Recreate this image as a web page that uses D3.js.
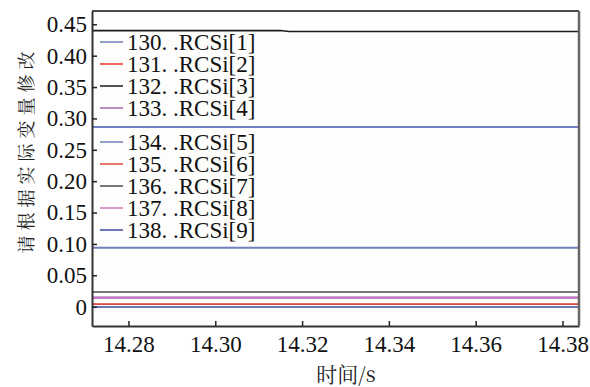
<!DOCTYPE html>
<html>
<head>
<meta charset="utf-8">
<script src="https://cdn.jsdelivr.net/npm/d3@7"></script>
<style>
  body { margin: 0; background: #fff; }
</style>
</head>
<body>
<div id="chart"></div>
<script>
// series names and colours (legend order)
const seriesNames = ["130. .RCSi[1]", "131. .RCSi[2]", "132. .RCSi[3]", "133. .RCSi[4]",
                     "134. .RCSi[5]", "135. .RCSi[6]", "136. .RCSi[7]", "137. .RCSi[8]", "138. .RCSi[9]"];
const seriesColours = ["#6f7fbb", "#e8302c", "#1a1a1a", "#a868b0",
                       "#7080bc", "#e0463c", "#4a4a4a", "#c878c0", "#3c4aa0"];
const legendGroup = [0, 0, 0, 0, 1, 1, 1, 1, 1];

// sample times and values
const times = [14.2716, 14.3150, 14.3170, 14.3838];
const seriesValues = [
  [0.2865, 0.2865, 0.2865, 0.2865],
  [0.0038, 0.0038, 0.0038, 0.0038],
  [0.4400, 0.4400, 0.4386, 0.4386],
  [0.0143, 0.0143, 0.0143, 0.0143],
  [0.0940, 0.0940, 0.0940, 0.0940],
  [0.0038, 0.0038, 0.0038, 0.0038],
  [0.0234, 0.0234, 0.0234, 0.0234],
  [0.0143, 0.0143, 0.0143, 0.0143],
  [-0.0005, -0.0005, -0.0005, -0.0005]
];

const yTicks = [0, 0.05, 0.10, 0.15, 0.20, 0.25, 0.30, 0.35, 0.40, 0.45];
const xTicks = [14.28, 14.30, 14.32, 14.34, 14.36, 14.38];
const xDomain = [14.2716, 14.3838];
const yDomain = [-0.0308, 0.4712];

const yTitle = "请根据实际变量修改";
const xTitle = "时间/s";

const serif = "'Liberation Serif', Tinos, 'Times New Roman', serif";
const cjk = "'Noto Serif CJK SC', 'Noto Sans CJK SC', serif";

const svgWidth = 590, svgHeight = 387;
const margin = {top: 11, right: 11, bottom: 61, left: 92};
const width = svgWidth - margin.left - margin.right;
const height = svgHeight - margin.top - margin.bottom;

const svg = d3.select("#chart").append("svg")
    .attr("width", svgWidth)
    .attr("height", svgHeight);

const plotArea = svg.append("g")
    .attr("transform", `translate(${margin.left},${margin.top})`);

const x = d3.scaleLinear().domain(xDomain).range([0, width]);
const y = d3.scaleLinear().domain(yDomain).range([height, 0]);

plotArea.append("rect")
    .attr("width", width).attr("height", height)
    .attr("fill", "#fdfdfb");

// series lines
const line = d3.line()
    .x((d, i) => x(times[i]))
    .y(d => y(d));

const drawOrder = [2, 0, 4, 6, 3, 7, 1, 5, 8];
plotArea.selectAll(".series")
    .data(drawOrder)
    .enter().append("path")
    .attr("class", "series")
    .attr("fill", "none")
    .attr("stroke", i => seriesColours[i])
    .attr("stroke-width", i => (i === 3 || i === 7) ? 2.6 : (i === 0 || i === 4) ? 2 : 1.6)
    .attr("opacity", i => (i === 3 || i === 7) ? 0.8 : 1)
    .attr("d", i => line(seriesValues[i]));

// axes
const yAxis = plotArea.append("g")
    .call(d3.axisLeft(y).tickValues(yTicks).tickSize(-5).tickSizeOuter(0).tickPadding(5)
        .tickFormat(d => d === 0 ? "0" : d3.format(".2f")(d)));
yAxis.attr("font-family", serif);
yAxis.select(".domain").attr("stroke", "#333").attr("stroke-width", 2);
yAxis.selectAll(".tick line").attr("stroke", "#222").attr("stroke-width", 1.5);
yAxis.selectAll(".tick text").attr("font-size", 23).attr("fill", "#111");

const xAxis = plotArea.append("g")
    .attr("transform", `translate(0,${height})`)
    .call(d3.axisBottom(x).tickValues(xTicks).tickSize(-5).tickSizeOuter(0).tickPadding(10)
        .tickFormat(d3.format(".2f")));
xAxis.attr("font-family", serif);
xAxis.select(".domain").attr("stroke", "#333").attr("stroke-width", 2);
xAxis.selectAll(".tick line").attr("stroke", "#222").attr("stroke-width", 1.5);
xAxis.selectAll(".tick text").attr("font-size", 23).attr("fill", "#111");

// top and right frame
plotArea.append("line")
    .attr("x1", 0).attr("x2", width).attr("y1", 0).attr("y2", 0)
    .attr("stroke", "#111").attr("stroke-width", 1.5);
plotArea.append("line")
    .attr("x1", width).attr("x2", width).attr("y1", 0).attr("y2", height)
    .attr("stroke", "#666").attr("stroke-width", 2.5);

// legend
const groupTop = [42, 142];
const rowStep = 22;
const legend = svg.append("g").attr("font-family", serif);
const rows = legend.selectAll(".legend-row")
    .data(seriesNames)
    .enter().append("g")
    .attr("class", "legend-row")
    .attr("transform", (d, i) => {
        const g = legendGroup[i];
        const k = legendGroup.slice(0, i).filter(v => v === g).length;
        return `translate(100,${groupTop[g] + k * rowStep})`;
    });
rows.append("line")
    .attr("x1", 0).attr("x2", 23)
    .attr("stroke", (d, i) => seriesColours[i])
    .attr("stroke-width", 1.5);
rows.append("text")
    .attr("x", 27).attr("dy", "0.35em")
    .attr("font-size", 23)
    .attr("fill", "#111")
    .text(d => d);

// titles
svg.append("text")
    .attr("font-family", cjk)
    .attr("fill", "#222")
    .attr("transform", `translate(33,150) rotate(-90)`)
    .attr("text-anchor", "middle")
    .attr("font-size", 18)
    .attr("letter-spacing", 5)
    .text(yTitle);

svg.append("text")
    .attr("font-family", cjk)
    .attr("fill", "#222")
    .attr("x", 346).attr("y", 382)
    .attr("text-anchor", "middle")
    .attr("font-size", 21)
    .text(xTitle);
</script>
</body>
</html>
